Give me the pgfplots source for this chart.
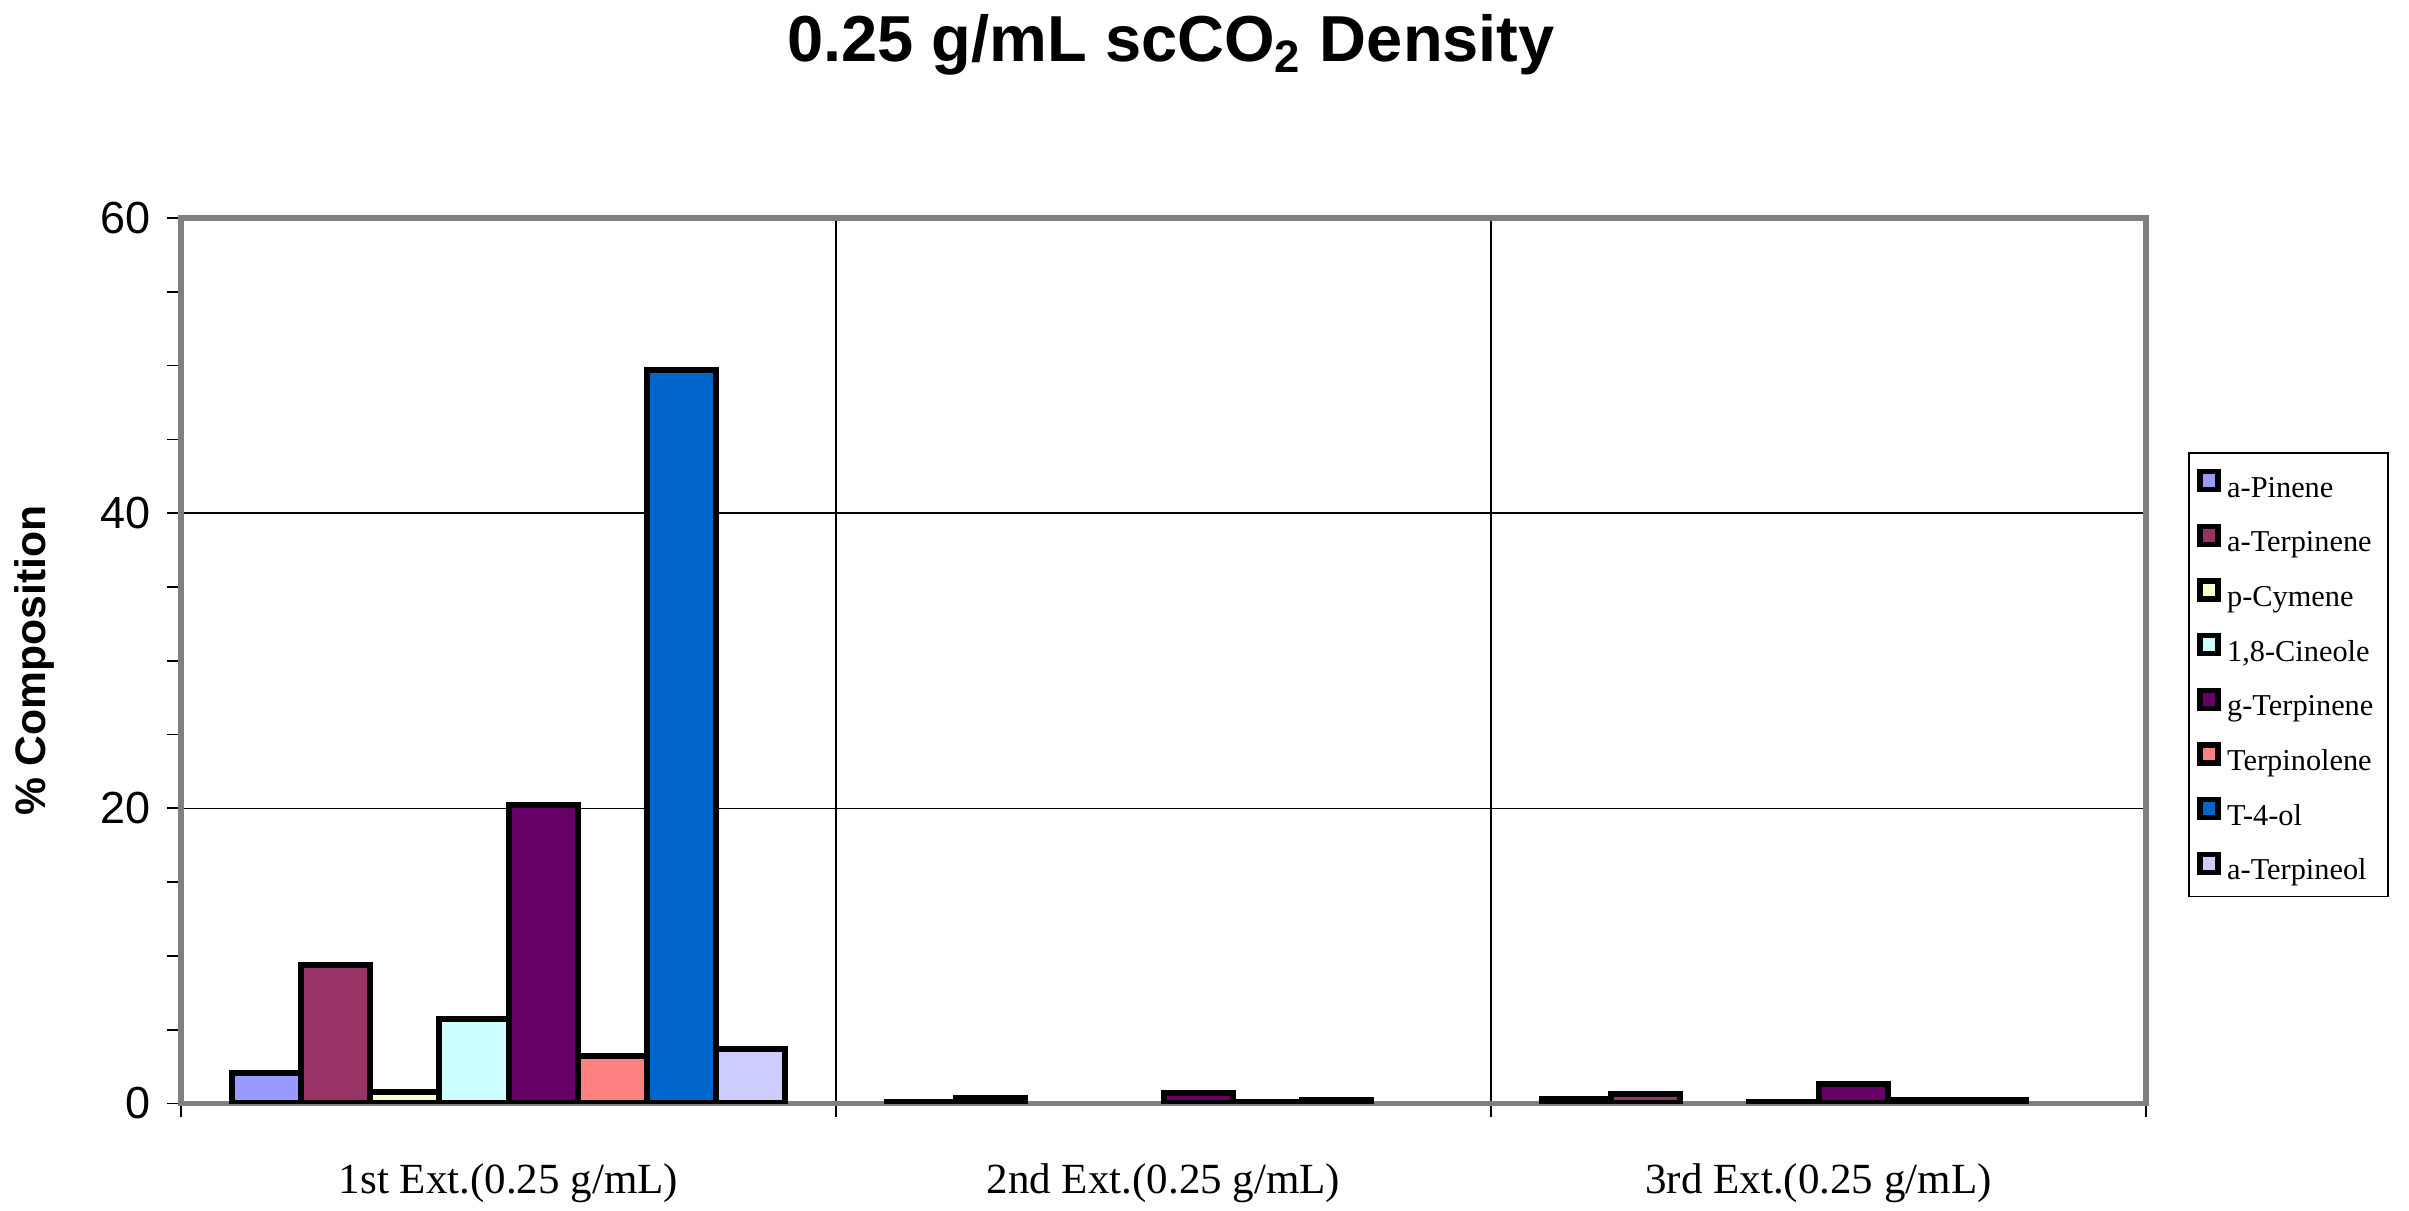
\documentclass[border=0pt]{standalone}
\usepackage{fontspec}
\setmainfont{Liberation Serif}
\setsansfont{Liberation Sans}
\usepackage{pgfplots}
\pgfplotsset{compat=1.18}
\definecolor{cA}{HTML}{9999FF}
\definecolor{cB}{HTML}{993366}
\definecolor{cC}{HTML}{FFFFCC}
\definecolor{cD}{HTML}{CCFFFF}
\definecolor{cE}{HTML}{660066}
\definecolor{cF}{HTML}{FF8080}
\definecolor{cG}{HTML}{0066CC}
\definecolor{cH}{HTML}{CCCCFF}
\begin{document}
\begin{tikzpicture}
\useasboundingbox (0,0) rectangle (722.7pt,363.3pt);
\begin{axis}[
  at={(54.3pt,32.25pt)}, anchor=south west,
  scale only axis, width=589.5pt, height=265.65pt,
  xmin=0.5, xmax=3.5, ymin=0, ymax=60,
  ybar=0pt, bar width=0.1055,
  xtick={0.5,1.5,2.5,3.5}, xticklabels={,,,},
  extra x ticks={1,2,3},
  extra x tick labels={1st Ext.(0.25 g/mL),2nd Ext.(0.25 g/mL),3rd Ext.(0.25 g/mL)},
  extra x tick style={major tick length=0pt, grid=none, xticklabel style={yshift=-14.5pt}},
  xmajorgrids,
  ytick={0,20,40,60}, minor y tick num=3,
  ymajorgrids,
  grid style={black, line width=0.4pt},
  axis line style={draw=gray, line width=1.6pt},
  tick align=outside, tick pos=left,
  major tick length=4.2pt, minor tick length=4.2pt,
  tick style={black, line width=0.5pt},
  xticklabel style={font=\fontsize{12.9}{14}\selectfont},
  yticklabel style={font=\sffamily\fontsize{13.5}{15}\selectfont, xshift=-1.4pt},
  /pgf/number format/assume math mode=true,
  ylabel={\% Composition},
  ylabel style={font=\sffamily\bfseries\fontsize{12.8}{14}\selectfont, at={(axis description cs:-0.0748,0.5)}, anchor=center},
  title={0.25 g/mL scCO\textsubscript{2} Density},
  title style={font=\sffamily\bfseries\fontsize{19.5}{22}\selectfont, at={(axis description cs:0.5038,1.1726)}, anchor=center},
  legend style={at={(axis description cs:1.0214,0.7357)}, anchor=north west, draw=black, line width=0.5pt,
    font=\fontsize{9.1}{10}\selectfont, row sep=2.9pt, inner xsep=2.5pt, inner ysep=2.4pt,
    nodes={text height=8.9pt, text depth=0.6pt},
    /tikz/every odd column/.style={column sep=0pt}},
  legend cell align=left,
  legend image code/.code={\draw[#1, draw=black, line width=1.6pt] (0.8pt,-1.85pt) rectangle (6.2pt,3.55pt);},
]
\addplot[fill=cA, draw=black, line width=1.8pt] coordinates {(1,2.05) (2,0.1) (3,0.3)};
\addplot[fill=cB, draw=black, line width=1.8pt] coordinates {(1,9.4) (2,0.35) (3,0.65)};
\addplot[fill=cC, draw=black, line width=1.8pt] coordinates {(1,0.8)};
\addplot[fill=cD, draw=black, line width=1.8pt] coordinates {(1,5.7) (3,0.1)};
\addplot[fill=cE, draw=black, line width=1.8pt] coordinates {(1,20.2) (2,0.7) (3,1.35)};
\addplot[fill=cF, draw=black, line width=1.8pt] coordinates {(1,3.2) (2,0.1) (3,0.25)};
\addplot[fill=cG, draw=black, line width=1.8pt] coordinates {(1,49.7) (2,0.25) (3,0.25)};
\addplot[fill=cH, draw=black, line width=1.8pt] coordinates {(1,3.7)};
\legend{a-Pinene,a-Terpinene,p-Cymene,{1,8-Cineole},g-Terpinene,Terpinolene,T-4-ol,a-Terpineol}
\end{axis}
\end{tikzpicture}
\end{document}
